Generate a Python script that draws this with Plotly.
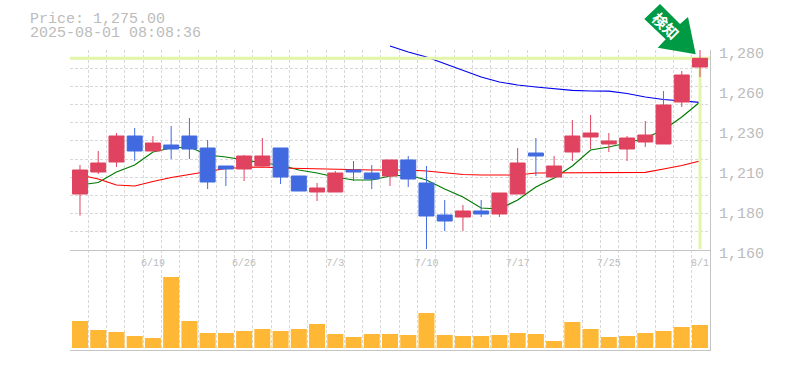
import plotly.graph_objects as go

dates = ["6/13","6/16","6/17","6/18","6/19","6/20","6/23","6/24","6/25","6/26","6/27","6/30",
         "7/1","7/2","7/3","7/4","7/7","7/8","7/9","7/10","7/11","7/14","7/15","7/16","7/17",
         "7/18","7/22","7/23","7/24","7/25","7/28","7/29","7/30","7/31","8/1"]
open_ = [1193.6,1206.8,1212.8,1228.4,1219.4,1223,1228.4,1221.2,1210.4,1208.6,1210.4,1221.2,
         1204.4,1194.8,1194.8,1208,1206.2,1204.4,1214,1200.2,1181,1179.8,1183.4,1181.6,1193.6,
         1218.2,1203.8,1218.8,1227.8,1223.6,1220.6,1224.8,1223.6,1248.8,1269.8]
close_ = [1208,1212.2,1228.4,1219.4,1224.2,1220.6,1220.6,1200.8,1208.6,1216.4,1216.4,1203.8,
          1195.4,1197.2,1206.2,1206.8,1202.6,1214,1202.6,1180.4,1177.4,1183.4,1181.6,1194.2,1212.2,
          1216.4,1210.4,1228.4,1230.2,1225.4,1227.2,1229,1247,1265,1275]
high_ = [1211,1219.4,1230.2,1233.2,1228.4,1234.4,1239.2,1226,1210.4,1217,1227.2,1221.2,
         1204.4,1200.2,1207.4,1213.4,1211,1214,1216.4,1210.4,1190,1187,1190,1194.2,1221.2,
         1227.2,1216.4,1238,1241,1230.2,1228.4,1237.4,1255.4,1267.4,1280]
low_ = [1180.6,1205.6,1209.8,1213.4,1219.4,1214.6,1214.6,1196.6,1198.4,1201.4,1210.4,1199.6,
        1195.4,1189.4,1194.8,1201.4,1196.6,1198.4,1197.8,1160.6,1171.4,1171.4,1179.8,1179.8,1193.6,
        1204.4,1203.8,1213.4,1220.6,1218.8,1213.4,1221.8,1223.6,1245.8,1263.8]

# Moving averages
ma_short = [1199,1200.5,1206.8,1211,1218.8,1221.2,1221.8,1217,1215.8,1214,1212.2,1211,
            1208,1206.2,1203.8,1202,1202,1204.4,1205,1202,1196.6,1191.8,1185.2,1184.6,1190,
            1197.8,1203.2,1210.4,1220,1221.8,1224.2,1227.2,1232,1239.8,1248.8]
ma_mid = [1205,1202.6,1199,1198.4,1201.1,1203.5,1205.3,1207.1,1208.9,1209.5,1209.8,1209.2,
          1208.9,1208.9,1208.6,1208,1208,1208,1208,1207.4,1206.2,1205.3,1205,1205,1205,
          1206.2,1206.2,1206.2,1206.2,1206.2,1206.4,1206.6,1208.6,1210.7,1213.4]
ma_long = [None]*17 + [1282.4,1278.8,1275.8,1271.9,1268,1263.8,1260.8,1259,1257.8,1256.6,
                       1255.8,1255.4,1255.3,1253.9,1251.8,1250.3,1249.4,1248.6]

volume = [27,18,16,12,10,71,27,15,15,17,19,17,19,24,14,11,14,14,13,35,13,12,12,13,15,14,7,26,19,11,12,15,17,21,23]

price_tick_vals = [1160,1184,1208,1232,1256,1280]
price_tick_text = ["1,160","1,180","1,210","1,230","1,260","1,280"]
date_ticks = ["6/19","6/26","7/3","7/10","7/17","7/25","8/1"]
last_price = 1275
last_date = "8/1"

W, H = 785, 370
L, R, T, M, B = 70, 710, 50, 250, 350
px = lambda x: x / W
py = lambda y: 1 - y / H
GRID = "#d8d8d8"
AXIS = "#c4c4c4"
TXT = "#bcbcbc"
MONO = "Liberation Mono, monospace"
DASH = "3px,2px"
xcat = dict(type="category", range=[-0.548, 34.548], domain=[px(L), px(R)],
            showgrid=False, zeroline=False, categoryorder="array", categoryarray=dates, automargin=False)

fig = go.Figure()
# invisible trace to make the base grid subplot exist
fig.add_trace(go.Scatter(x=[0], y=[1100], xaxis="x", yaxis="y", mode="markers",
                         marker=dict(opacity=0), hoverinfo="skip", showlegend=False))
for vals, col in [(ma_short, "#007a00"), (ma_mid, "#ff0000"), (ma_long, "#0000ee")]:
    fig.add_trace(go.Scatter(x=dates, y=vals, xaxis="x2", yaxis="y2", mode="lines",
                             line=dict(color=col, width=1.2), showlegend=False))
fig.add_trace(go.Candlestick(x=dates, open=open_, high=high_, low=low_, close=close_,
                             xaxis="x3", yaxis="y3", whiskerwidth=0, showlegend=False,
                             increasing=dict(line=dict(color="#e0435f", width=1), fillcolor="#e0435f"),
                             decreasing=dict(line=dict(color="#416ae0", width=1), fillcolor="#416ae0")))
fig.add_trace(go.Bar(x=dates, y=volume, xaxis="x4", yaxis="y4", marker=dict(color="#ffb835", line_width=0),
                     showlegend=False))

n_grid = 11
CLEAR = "rgba(0,0,0,0)"
fig.update_layout(
    width=W, height=H, margin=dict(l=0, r=0, t=0, b=0), paper_bgcolor="white", plot_bgcolor=CLEAR,
    boxgap=0.18, boxgroupgap=0, bargap=0.12, showlegend=False, hovermode=False, dragmode=False,
    xaxis=dict(range=[0, 35], domain=[px(L), px(R)], tick0=0, dtick=1, showticklabels=False, ticks="",
               showgrid=True, gridcolor=GRID, griddash=DASH, gridwidth=1, zeroline=False,
               showline=True, linecolor=AXIS, linewidth=1, automargin=False),
    yaxis=dict(range=[1100, 1280], domain=[py(B), py(T)], tickmode="array",
               tickvals=[1160 + k * 120 / n_grid for k in range(1, n_grid + 1)],
               showticklabels=False, ticks="", side="right",
               showgrid=True, gridcolor=GRID, griddash=DASH, gridwidth=1, zeroline=False,
               showline=True, linecolor=AXIS, linewidth=1, automargin=False),
    xaxis2=dict(**xcat, anchor="y2", visible=False),
    yaxis2=dict(range=[1160, 1287.2], domain=[py(B) + 100 / H, py(T - 12)], anchor="x2", visible=False,
                automargin=False),
    xaxis3=dict(**xcat, anchor="y3", tickmode="array", tickvals=date_ticks, ticktext=date_ticks,
                tickfont=dict(family=MONO, size=10, color=TXT), ticks="", showline=True, ticklabelstandoff=3,
                linecolor=AXIS, linewidth=1, rangeslider=dict(visible=False)),
    yaxis3=dict(range=[1160, 1280], domain=[py(B) + 100 / H, py(T)], anchor="x3", side="right",
                tickmode="array", tickvals=price_tick_vals, ticktext=price_tick_text, showgrid=False, zeroline=False,
                tickfont=dict(family=MONO, size=15, color=TXT), ticks="", ticklabelstandoff=8,
                ticklabelshift=3, automargin=False),
    xaxis4=dict(**xcat, anchor="y4", visible=False),
    yaxis4=dict(range=[-2, 98], domain=[py(B), py(M)], anchor="x4", visible=False, automargin=False),
    shapes=[
        dict(type="line", xref="x3", yref="y3", x0=-0.548, x1=34.548, y0=last_price, y1=last_price,
             line=dict(color="#e2f5a8", width=3), layer="below"),
        dict(type="line", xref="x3", yref="y3", x0=last_date, x1=last_date, y0=1160.5, y1=last_price,
             line=dict(color="#e2f5a8", width=3), layer="below"),
        dict(type="path", xref="paper", yref="paper", fillcolor="#009944", line_width=0,
             path="M {} {} L {} {} L {} {} L {} {} L {} {} L {} {} L {} {} Z".format(
                 px(644.3), py(19), px(660), py(4), px(680), py(24), px(688), py(17),
                 px(695.7), py(54.3), px(657.7), py(47.7), px(665.7), py(39.3))),
    ],
    annotations=[
        dict(xref="paper", yref="paper", x=px(28), y=py(19), xanchor="left", yanchor="middle", showarrow=False,
             text="Price: 1,275.00", font=dict(family=MONO, size=15, color=TXT)),
        dict(xref="paper", yref="paper", x=px(28), y=py(34), xanchor="left", yanchor="middle", showarrow=False,
             text="2025-08-01 08:08:36", font=dict(family=MONO, size=15, color=TXT)),
        dict(xref="paper", yref="paper", x=px(666), y=py(25.5), xanchor="center", yanchor="middle",
             showarrow=False, text="<b>検知</b>", textangle=45,
             font=dict(family="Noto Sans CJK JP", size=15, color="white")),
    ],
)
fig.write_html("out.html", config=dict(displayModeBar=False),
               post_script="document.body.style.margin='0';")
